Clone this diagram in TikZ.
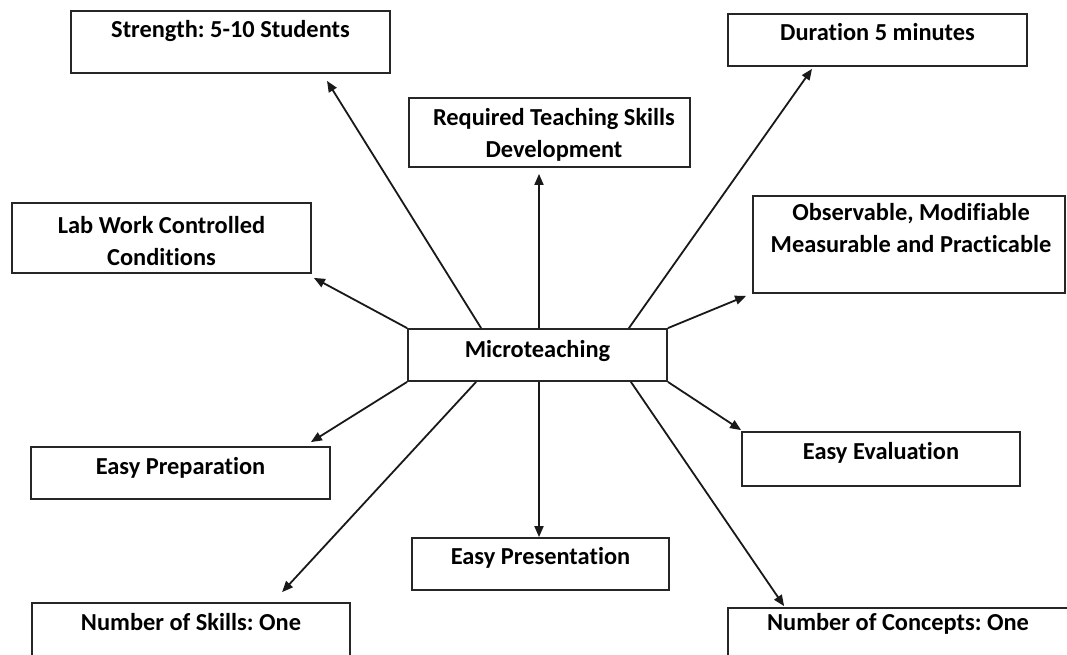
\documentclass[tikz,border=0pt]{standalone}
\usepackage{fontspec}
\setmainfont{Carlito}[Ligatures=NoCommon]
\frenchspacing
\usetikzlibrary{arrows.meta}
\begin{document}
\begin{tikzpicture}[x=1pt,y=-1pt,
  box/.style={draw=black!85, line width=1.8pt, inner sep=0pt},
  txt/.style={font=\fontsize{24.4}{32}\selectfont\bfseries, align=center, inner sep=0pt},
  arr/.style={-{Triangle[length=11pt,width=9pt]}, line width=1.8pt, black!90}]
\fill[white] (0,0) rectangle (1067,654);
\useasboundingbox (0,0) rectangle (1067,654);
\clip (0,0) rectangle (1067,654);

% central box
\node[box, minimum width=259pt, minimum height=52pt] (mic) at (537.5,355) {};
\node[txt] at (537.5,351) {Microteaching};

% surrounding boxes
\node[box, minimum width=319pt, minimum height=62pt] (str) at (230.5,42) {};
\node[txt] at (230.5,31) {Strength: 5-10 Students};

\node[box, minimum width=299pt, minimum height=52pt] (dur) at (877.5,40) {};
\node[txt] at (877.5,32) {Duration 5 minutes};

\node[box, minimum width=281pt, minimum height=69pt] (req) at (549.5,132.5) {};
\node[txt] at (554,135) {Required Teaching Skills\\Development};

\node[box, minimum width=299pt, minimum height=70pt] (lab) at (161.5,238) {};
\node[txt] at (161.5,241) {Lab Work Controlled\\Conditions};

\node[box, minimum width=312pt, minimum height=97pt] (obs) at (909,244.5) {};
\node[txt] at (911,228) {Observable, Modifiable\\Measurable and Practicable};

\node[box, minimum width=299pt, minimum height=52pt] (prep) at (180.5,473) {};
\node[txt] at (180.5,468) {Easy Preparation};

\node[box, minimum width=278pt, minimum height=54pt] (eval) at (881,459) {};
\node[txt] at (881,453) {Easy Evaluation};

\node[box, minimum width=257pt, minimum height=52pt] (pres) at (540.5,564) {};
\node[txt] at (540.5,558) {Easy Presentation};

\node[box, minimum width=318pt, minimum height=62pt] (skills) at (191,634) {};
\node[txt] at (191,622) {Number of Skills: One};

\node[box, minimum width=340pt, minimum height=62pt] (conc) at (898,639) {};
\node[txt] at (898,624) {Number of Concepts: One};

% connectors from the central box
\draw[arr] ([xshift=74pt]mic.north west) -- ([shift={(96.5,7)}]str.south);
\draw[arr] ([xshift=-39pt]mic.north east) -- ([shift={(-65.5,2)}]dur.south);
\draw[arr] ([xshift=1.5pt]mic.north) -- ([shift={(-10.5,6)}]req.south);
\draw[arr] (mic.north west) -- ([shift={(2,4)}]lab.south east);
\draw[arr] (mic.north east) -- ([shift={(-6,2)}]obs.south west);
\draw[arr] (mic.south west) -- ([shift={(-20,-4)}]prep.north east);
\draw[arr] ([xshift=69pt]mic.south west) -- ([shift={(251,-10)}]skills.north west);
\draw[arr] ([xshift=1.5pt]mic.south) -- ([xshift=-1.5pt]pres.north);
\draw[arr] ([xshift=-37pt]mic.south east) -- ([shift={(57,-1)}]conc.north west);
\draw[arr] (mic.south east) -- ([shift={(0,-1)}]eval.north west);
\end{tikzpicture}
\end{document}
